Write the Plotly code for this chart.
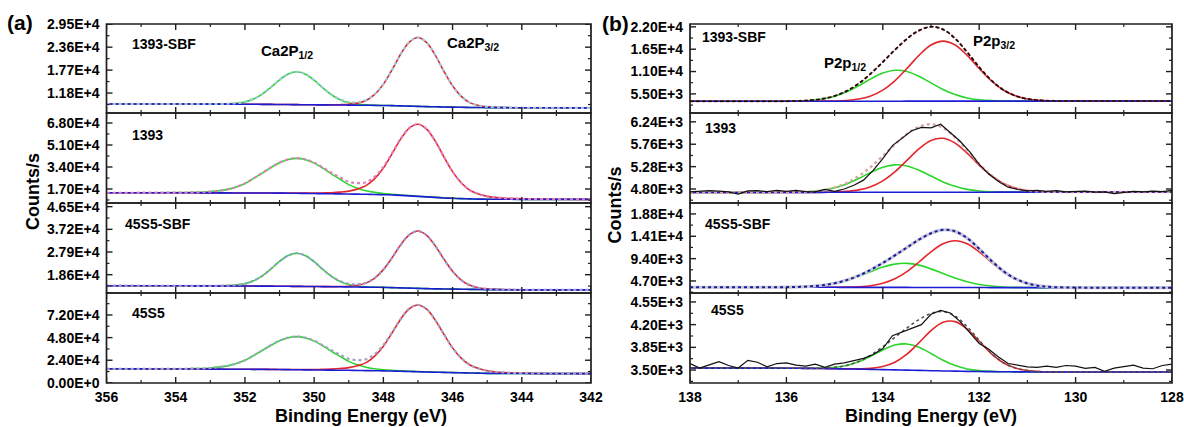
import plotly.graph_objects as go
import numpy as np

# ---------------- data: panel (a) Ca 2p ----------------
E_CA = [356, 355, 354, 353.5, 353, 352.5, 352.25, 352, 351.75, 351.5, 351.25, 351, 350.75, 350.5,
        350.25, 350, 349.75, 349.5, 349.25, 349, 348.75, 348.5, 348.25, 348, 347.75, 347.5, 347.25,
        347, 346.75, 346.5, 346.25, 346, 345.75, 345.5, 345.25, 345, 344.5, 344, 343, 342]

a1_base = [9000, 9000, 8980, 8970, 8960, 8950, 8940, 8930, 8920, 8900, 8880, 8860, 8840, 8820, 8800,
           8780, 8760, 8740, 8720, 8700, 8680, 8660, 8630, 8600, 8560, 8500, 8440, 8380, 8320, 8260,
           8210, 8170, 8130, 8100, 8080, 8060, 8040, 8030, 8020, 8000]
a1_p12 = [0, 0, 0, 0, 17, 100, 250, 590, 1350, 2620, 4390, 6330, 7850, 8440, 7850, 6330, 4390, 2620,
          1350, 590, 250, 100, 40, 17, 0, 0, 0, 0, 0, 0, 0, 0, 0, 0, 0, 0, 0, 0, 0, 0]
a1_p32 = [0, 0, 0, 0, 0, 0, 0, 0, 0, 0, 0, 0, 0, 0, 0, 0, 0, 35, 90, 210, 530, 1240, 2830, 5490, 9200,
          13280, 16460, 17700, 16460, 13280, 9200, 5490, 2830, 1240, 530, 210, 35, 0, 0, 0]

a2_base = [14100, 14100, 14050, 14050, 14000, 14000, 13950, 13950, 13900, 13900, 13850, 13800, 13750,
           13700, 13600, 13500, 13400, 13300, 13200, 13100, 13000, 12900, 12750, 12600, 12400, 12100,
           11700, 11300, 10900, 10500, 10100, 9800, 9550, 9350, 9200, 9100, 9050, 9000, 9000, 9000]
a2_p12 = [0, 27, 135, 320, 950, 2700, 4590, 7290, 11340, 15390, 19710, 23490, 26060, 27000, 26060,
          23490, 19710, 15390, 11340, 7290, 4590, 2700, 1620, 950, 540, 320, 220, 135, 80, 54, 40, 27,
          0, 0, 0, 0, 0, 0, 0, 0]
a2_p32 = [0, 0, 0, 0, 0, 0, 0, 0, 0, 56, 84, 110, 110, 170, 220, 330, 560, 840, 1390, 2230, 3900, 6680,
          12250, 20610, 31750, 43450, 52360, 55700, 52360, 43450, 31750, 20610, 12250, 6680, 3900,
          2230, 840, 330, 110, 0]

a3_base = [14100, 14080, 14060, 14040, 14020, 14000, 13980, 13960, 13940, 13920, 13900, 13880, 13850,
           13820, 13790, 13760, 13720, 13680, 13640, 13600, 13550, 13500, 13450, 13400, 13300, 13200,
           13100, 13000, 12900, 12800, 12750, 12700, 12650, 12600, 12550, 12500, 12450, 12400, 12400, 12400]
a3_p12 = [0, 0, 0, 0, 27, 160, 410, 950, 2170, 4210, 7060, 10180, 12620, 13570, 12620, 10180, 7060,
          4210, 2170, 950, 410, 160, 70, 27, 0, 0, 0, 0, 0, 0, 0, 0, 0, 0, 0, 0, 0, 0, 0, 0]
a3_p32 = [0, 0, 0, 0, 0, 0, 0, 0, 0, 0, 0, 0, 0, 0, 0, 0, 0, 47, 120, 280, 710, 1650, 3760, 7290, 12220,
          17630, 21860, 23500, 21860, 17630, 12220, 7290, 3760, 1650, 710, 280, 47, 0, 0, 0]

a4_base = [14900, 14800, 14700, 14650, 14600, 14500, 14450, 14400, 14350, 14300, 14200, 14100, 14000,
           13900, 13800, 13700, 13600, 13500, 13400, 13300, 13150, 13000, 12850, 12700, 12500, 12300,
           12050, 11800, 11550, 11300, 11100, 10900, 10700, 10500, 10300, 10100, 9900, 9850, 9800, 9800]
a4_p12 = [0, 35, 175, 420, 1230, 3510, 5970, 9480, 14740, 20010, 25620, 30540, 33870, 35100, 33870,
          30540, 25620, 20010, 14740, 9480, 5970, 3510, 2110, 1230, 700, 420, 280, 175, 105, 70, 53, 35,
          0, 0, 0, 0, 0, 0, 0, 0]
a4_p32 = [0, 0, 0, 0, 0, 0, 0, 0, 0, 70, 105, 140, 140, 210, 280, 420, 710, 1060, 1770, 2830, 4960, 8500,
          15580, 26200, 40360, 55220, 66550, 70800, 66550, 55220, 40360, 26200, 15580, 8500, 4960,
          2830, 1060, 420, 140, 0]

# ---------------- data: panel (b) P 2p ----------------
E_P = [138, 137.5, 137, 136.5, 136, 135.75, 135.5, 135.25, 135, 134.75, 134.5, 134.25, 134, 133.75,
       133.5, 133.25, 133, 132.75, 132.5, 132.25, 132, 131.75, 131.5, 131.25, 131, 130.75, 130.5, 130,
       129.5, 129, 128.5, 128]

b1_base = [3680, 3680, 3685, 3685, 3690, 3690, 3690, 3695, 3695, 3700, 3700, 3700, 3705, 3705, 3710,
           3710, 3715, 3715, 3720, 3720, 3720, 3725, 3725, 3725, 3730, 3730, 3730, 3730, 3730, 3730, 3730, 3730]
b1_p12 = [0, 0, 0, 0, 25, 80, 230, 570, 1230, 2320, 3820, 5490, 6910, 7600, 7300, 6120, 4490, 2870, 1610,
          780, 340, 120, 40, 11, 3, 0, 0, 0, 0, 0, 0, 0]
b1_p32 = [0, 0, 0, 0, 0, 0, 4, 18, 64, 190, 530, 1300, 2730, 5010, 8030, 11270, 13810, 14770, 13810,
          11270, 8030, 5010, 2730, 1300, 530, 190, 64, 4, 0, 0, 0, 0]

b2_base = [4725, 4725, 4725, 4725, 4728, 4728, 4728, 4728, 4730, 4730, 4730, 4730, 4730, 4730, 4730, 4730,
           4730, 4730, 4732, 4732, 4732, 4732, 4733, 4733, 4733, 4735, 4735, 4735, 4735, 4735, 4735, 4735]
b2_p12 = [0, 0, 0, 0, 2, 6, 18, 44, 95, 180, 296, 425, 535, 588, 565, 474, 348, 222, 125, 61, 26, 9, 3, 1,
          0, 0, 0, 0, 0, 0, 0, 0]
b2_p32 = [0, 0, 0, 0, 0, 0, 0, 2, 6, 19, 51, 119, 245, 437, 683, 931, 1111, 1157, 1052, 836, 581, 353,
          187, 87, 35, 13, 4, 0, 0, 0, 0, 0]

b3_base = [3380, 3380, 3375, 3375, 3370, 3370, 3370, 3365, 3365, 3360, 3360, 3355, 3355, 3350, 3345, 3340,
           3335, 3330, 3325, 3320, 3315, 3310, 3310, 3305, 3305, 3300, 3300, 3300, 3300, 3300, 3300, 3300]
b3_p12 = [0, 0, 0, 3, 30, 81, 198, 426, 842, 1480, 2340, 3340, 4260, 4900, 5060, 4690, 3910, 2940, 1980,
          1200, 650, 320, 137, 55, 20, 6, 2, 0, 0, 0, 0, 0]
b3_p32 = [0, 0, 0, 0, 0, 0, 0, 3, 12, 42, 128, 354, 865, 1820, 3330, 5350, 7500, 9190, 9830, 9190, 7500,
          5350, 3330, 1820, 865, 354, 128, 12, 0, 0, 0, 0]

b4_base = [3530, 3530, 3530, 3530, 3528, 3527, 3525, 3523, 3520, 3517, 3514, 3510, 3506, 3502, 3498, 3494,
           3490, 3486, 3483, 3480, 3477, 3475, 3473, 3472, 3471, 3470, 3470, 3470, 3470, 3470, 3470, 3470]
b4_p12 = [0, 0, 0, 0, 0, 0, 2, 7, 21, 53, 113, 203, 304, 383, 403, 357, 264, 164, 85, 37, 14, 4, 1, 0, 0,
          0, 0, 0, 0, 0, 0, 0]
b4_p32 = [0, 0, 0, 0, 0, 0, 0, 0, 0, 1, 5, 16, 49, 119, 247, 427, 618, 751, 764, 652, 467, 279, 140, 59,
          21, 6, 2, 0, 0, 0, 0, 0]

# measured (noisy) spectra for 1393 and 45S5 P 2p
E_RAW = [138.0, 137.8, 137.6, 137.4, 137.2, 137.0, 136.8, 136.6, 136.4, 136.2, 136.0, 135.8, 135.6,
         135.4, 135.2, 135.0, 134.8, 134.6, 134.4, 134.2, 134.0, 133.8, 133.6, 133.4, 133.2, 133.0,
         132.8, 132.6, 132.4, 132.2, 132.0, 131.8, 131.6, 131.4, 131.2, 131.0, 130.8, 130.6, 130.4,
         130.2, 130.0, 129.8, 129.6, 129.4, 129.2, 129.0, 128.8, 128.6, 128.4, 128.2, 128.0]
b2_raw = [4740, 4760, 4765, 4755, 4740, 4690, 4760, 4765, 4745, 4770, 4750, 4770, 4745, 4740, 4790,
          4750, 4800, 4880, 4990, 5200, 5450, 5730, 5900, 6050, 6120, 6110, 6190, 6010, 5830, 5600,
          5330, 5120, 4960, 4840, 4790, 4760, 4770, 4750, 4765, 4740, 4745, 4755, 4735, 4740, 4700,
          4725, 4750, 4740, 4755, 4745, 4770]
b4_raw = [3600, 3530, 3580, 3630, 3570, 3530, 3650, 3620, 3550, 3600, 3610, 3575, 3560, 3590, 3540,
          3590, 3610, 3640, 3680, 3740, 3830, 4030, 4090, 4150, 4200, 4360, 4420, 4380, 4250, 4080,
          3910, 3820, 3700, 3600, 3570, 3550, 3540, 3560, 3540, 3570, 3560, 3525, 3540, 3480, 3530,
          3550, 3575, 3530, 3520, 3570, 3590]

# ---------------- axes / labels ----------------
SAMPLES = ["1393-SBF", "1393", "45S5-SBF", "45S5"]
A_TICKS = [[11800, 17700, 23600, 29500], [17000, 34000, 51000, 68000],
           [18600, 27900, 37200, 46500], [0, 24000, 48000, 72000]]
A_TICKTEXT = [["1.18E+4", "1.77E+4", "2.36E+4", "2.95E+4"], ["1.70E+4", "3.40E+4", "5.10E+4", "6.80E+4"],
              ["1.86E+4", "2.79E+4", "3.72E+4", "4.65E+4"], ["0.00E+0", "2.40E+4", "4.80E+4", "7.20E+4"]]
A_RANGES = [[6670, 29560], [6180, 75730], [11100, 48000], [-150, 95300]]
B_TICKS = [[5500, 11000, 16500, 22000], [4800, 5280, 5760, 6240],
           [4700, 9400, 14100, 18800], [3500, 3850, 4200, 4550]]
B_TICKTEXT = [["5.50E+3", "1.10E+4", "1.65E+4", "2.20E+4"], ["4.80E+3", "5.28E+3", "5.76E+3", "6.24E+3"],
              ["4.70E+3", "9.40E+3", "1.41E+4", "1.88E+4"], ["3.50E+3", "3.85E+3", "4.20E+3", "4.55E+3"]]
B_RANGES = [[800, 22700], [4500, 6430], [2170, 21100], [3300, 4688]]
XA_TICKS = [356, 354, 352, 350, 348, 346, 344, 342]
XB_TICKS = [138, 136, 134, 132, 130, 128]

W, H = 1184, 427
GREEN, RED, BLUE = "#2bd62b", "#e3262b", "#1c1cd6"
FONT = "Liberation Sans"
INK = "#1e1e1e"

fig = go.Figure()
rows_px = [(24, 113), (113, 203), (203, 293), (293, 383)]
XA_PX = (106.5, 591)
XB_PX = (690, 1172)


def ydom(r):
    t, b = rows_px[r]
    return [1 - b / H, 1 - t / H]


def add_components(i, E, base, p12, p32):
    base = np.array(base, float)
    g = base + np.array(p12, float)
    r = base + np.array(p32, float)
    env = base + np.array(p12, float) + np.array(p32, float)
    xa, ya = ("x" if i == 1 else f"x{i}"), ("y" if i == 1 else f"y{i}")
    fig.add_trace(go.Scatter(x=E, y=g, mode="lines", line=dict(color=GREEN, width=1.6, shape="spline"),
                             xaxis=xa, yaxis=ya))
    fig.add_trace(go.Scatter(x=E, y=r, mode="lines", line=dict(color=RED, width=1.6, shape="spline"),
                             xaxis=xa, yaxis=ya))
    fig.add_trace(go.Scatter(x=E, y=base, mode="lines", line=dict(color=BLUE, width=1.6, shape="spline"),
                             xaxis=xa, yaxis=ya))
    return env, xa, ya


a_sets = [(a1_base, a1_p12, a1_p32, "#9fc9da"), (a2_base, a2_p12, a2_p32, "#de7fc2"),
          (a3_base, a3_p12, a3_p32, "#9b9bd2"), (a4_base, a4_p12, a4_p32, "#a3a3c8")]
for k, (bs, p1, p3, col) in enumerate(a_sets):
    env, xa, ya = add_components(k + 1, E_CA, bs, p1, p3)
    fig.add_trace(go.Scatter(x=E_CA, y=env, mode="lines",
                             line=dict(color=col, width=2.2, dash="dot", shape="spline"), xaxis=xa, yaxis=ya))

for k, (bs, p1, p3) in enumerate([(b1_base, b1_p12, b1_p32), (b2_base, b2_p12, b2_p32),
                                  (b3_base, b3_p12, b3_p32), (b4_base, b4_p12, b4_p32)]):
    i = k + 5
    env, xa, ya = add_components(i, E_P, bs, p1, p3)
    if k == 0:
        fig.add_trace(go.Scatter(x=E_P, y=env, mode="lines", line=dict(color="#c0282c", width=2, dash="dot",
                                 shape="spline"), xaxis=xa, yaxis=ya))
        fig.add_trace(go.Scatter(x=E_P, y=env, mode="lines", line=dict(color="#111", width=1.5, dash="4px,2px",
                                 shape="spline"), xaxis=xa, yaxis=ya))
    elif k == 1:
        fig.add_trace(go.Scatter(x=E_P, y=env, mode="lines", line=dict(color="#d9a6a6", width=2.4, dash="dot",
                                 shape="spline"), xaxis=xa, yaxis=ya))
        fig.add_trace(go.Scatter(x=E_RAW, y=b2_raw, mode="lines", line=dict(color="#111", width=1.2),
                                 xaxis=xa, yaxis=ya))
    elif k == 2:
        fig.add_trace(go.Scatter(x=E_P, y=env, mode="lines", line=dict(color="#c8c8d8", width=3.2,
                                 shape="spline"), xaxis=xa, yaxis=ya))
        fig.add_trace(go.Scatter(x=E_P, y=env, mode="lines", line=dict(color="#1a1a9c", width=2, dash="dot",
                                 shape="spline"), xaxis=xa, yaxis=ya))
    else:
        fig.add_trace(go.Scatter(x=E_P, y=env, mode="lines", line=dict(color="#555", width=1.6, dash="dot",
                                 shape="spline"), xaxis=xa, yaxis=ya))
        fig.add_trace(go.Scatter(x=E_RAW, y=b4_raw, mode="lines", line=dict(color="#111", width=1.2),
                                 xaxis=xa, yaxis=ya))

tickfont = dict(family=FONT, size=14, color="black", weight="bold")
layout = dict(width=W, height=H, margin=dict(l=0, r=0, t=0, b=0, autoexpand=False), showlegend=False,
              plot_bgcolor="white", paper_bgcolor="white")

shapes = []


def seg(xref, yref, x0, x1, y0, y1, w):
    shapes.append(dict(type="line", xref=xref, yref=yref, x0=x0, x1=x1, y0=y0, y1=y1,
                       line=dict(color=INK, width=w), layer="above"))


for k in range(8):
    i = k + 1
    r = k % 4
    is_a = k < 4
    xpx = XA_PX if is_a else XB_PX
    xdom = [xpx[0] / W, xpx[1] / W]
    wpx = xpx[1] - xpx[0]
    hpx = rows_px[r][1] - rows_px[r][0]
    xr = [356, 342] if is_a else [138, 128]
    xt = XA_TICKS if is_a else XB_TICKS
    yt = A_TICKS[r] if is_a else B_TICKS[r]
    ytt = A_TICKTEXT[r] if is_a else B_TICKTEXT[r]
    yr = A_RANGES[r] if is_a else B_RANGES[r]
    xa, ya = ("x" if i == 1 else f"x{i}"), ("y" if i == 1 else f"y{i}")
    xname = "xaxis" if i == 1 else f"xaxis{i}"
    yname = "yaxis" if i == 1 else f"yaxis{i}"
    layout[xname] = dict(domain=xdom, range=xr, anchor=ya, showline=False, ticks="",
                         tickmode="array", tickvals=xt, showticklabels=(r == 3), ticklabelstandoff=4,
                         tickfont=tickfont, showgrid=False, zeroline=False, automargin=False)
    layout[yname] = dict(domain=ydom(r), range=yr, anchor=xa, showline=False, ticks="",
                         tickmode="array", tickvals=yt, ticktext=ytt, tickfont=tickfont,
                         ticklabelstandoff=6, showgrid=False, zeroline=False, automargin=False)
    shapes.append(dict(type="rect", xref=f"{xa} domain", yref=f"{ya} domain", x0=0, x1=1, y0=0, y1=1,
                       line=dict(color=INK, width=1.7), layer="above"))
    for v in xt:
        seg(xa, f"{ya} domain", v, v, 0, 6 / hpx, 1.4)
        seg(xa, f"{ya} domain", v, v, 1, 1 - 6 / hpx, 1.4)
    for v in xt[:-1]:
        m = v - 1
        seg(xa, f"{ya} domain", m, m, 0, 3 / hpx, 1.2)
        seg(xa, f"{ya} domain", m, m, 1, 1 - 3 / hpx, 1.2)
    step = yt[1] - yt[0]
    for v in yt:
        if yr[0] <= v <= yr[1]:
            seg(f"{xa} domain", ya, 0, 6 / wpx, v, v, 1.4)
            seg(f"{xa} domain", ya, 1, 1 - 6 / wpx, v, v, 1.4)
    for v in [yt[0] - step / 2] + [t + step / 2 for t in yt]:
        if yr[0] <= v <= yr[1]:
            seg(f"{xa} domain", ya, 0, 3 / wpx, v, v, 1.2)
            seg(f"{xa} domain", ya, 1, 1 - 3 / wpx, v, v, 1.2)

fig.update_layout(**layout)
fig.update_layout(shapes=shapes)

ann = []
lab_pos_a = [(0.0475, 0.775), (0.0475, 0.755), (0.035, 0.767), (0.0475, 0.78)]
lab_pos_b = [(0.02, 0.85), (0.026, 0.83), (0.026, 0.767), (0.04, 0.81)]
for k in range(8):
    i = k + 1
    r = k % 4
    pos = lab_pos_a[r] if k < 4 else lab_pos_b[r]
    ann.append(dict(text=SAMPLES[r], xref=("x domain" if i == 1 else f"x{i} domain"),
                    yref=("y domain" if i == 1 else f"y{i} domain"), x=pos[0], y=pos[1],
                    xanchor="left", yanchor="middle", showarrow=False,
                    font=dict(family=FONT, size=14, color="black", weight="bold")))

pk_font = dict(family=FONT, size=15, color="black", weight="bold")
ann.append(dict(text="Ca2P<sub>1/2</sub>", xref="x", yref="y domain", x=351.6, y=0.69,
                xanchor="left", yanchor="middle", showarrow=False, font=pk_font))
ann.append(dict(text="Ca2P<sub>3/2</sub>", xref="x", yref="y domain", x=346.22, y=0.78,
                xanchor="left", yanchor="middle", showarrow=False, font=pk_font))
ann.append(dict(text="P2p<sub>1/2</sub>", xref="x5", yref="y5 domain", x=135.27, y=0.56,
                xanchor="left", yanchor="middle", showarrow=False, font=pk_font))
ann.append(dict(text="P2p<sub>3/2</sub>", xref="x5", yref="y5 domain", x=132.18, y=0.80,
                xanchor="left", yanchor="middle", showarrow=False, font=pk_font))

tf = dict(family=FONT, size=18, color="black", weight="bold")
ann.append(dict(text="Binding Energy (eV)", xref="paper", yref="paper", x=361 / W, y=1 - 416 / H,
                xanchor="center", yanchor="middle", showarrow=False, font=tf))
ann.append(dict(text="Binding Energy (eV)", xref="paper", yref="paper", x=931 / W, y=1 - 416 / H,
                xanchor="center", yanchor="middle", showarrow=False, font=tf))
ann.append(dict(text="Counts/s", xref="paper", yref="paper", x=33 / W, y=1 - 192 / H, textangle=-90,
                xanchor="center", yanchor="middle", showarrow=False, font=tf))
ann.append(dict(text="Counts/s", xref="paper", yref="paper", x=614.5 / W, y=1 - 205 / H, textangle=-90,
                xanchor="center", yanchor="middle", showarrow=False, font=tf))
ann.append(dict(text="(a)", xref="paper", yref="paper", x=20 / W, y=1 - 22 / H,
                xanchor="center", yanchor="middle", showarrow=False,
                font=dict(family=FONT, size=21, color="black", weight="bold")))
ann.append(dict(text="(b)", xref="paper", yref="paper", x=615 / W, y=1 - 24 / H,
                xanchor="center", yanchor="middle", showarrow=False,
                font=dict(family=FONT, size=21, color="black", weight="bold")))
fig.update_layout(annotations=ann)

fig.write_html("out.html", config={"displayModeBar": False},
               post_script="document.body.style.margin='0';")
